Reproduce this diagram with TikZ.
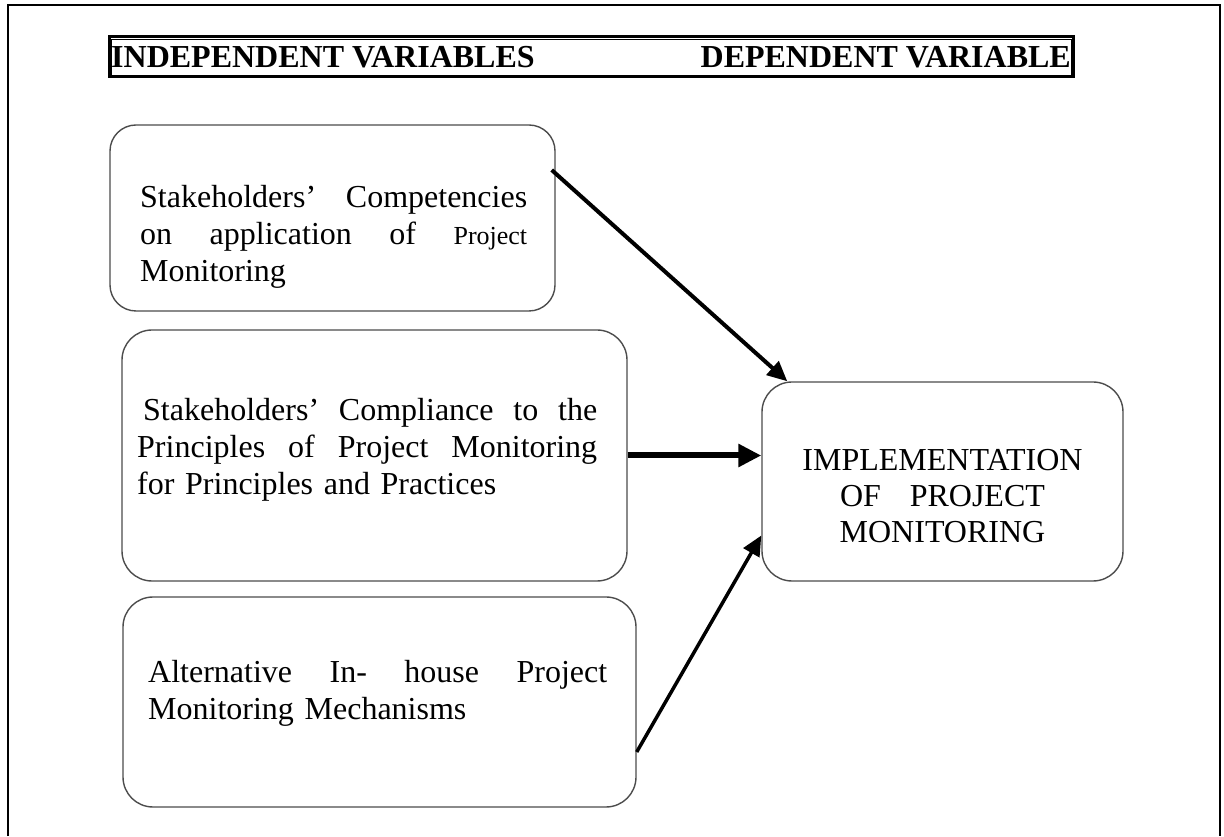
\documentclass[tikz,border=0pt]{standalone}
\usepackage{fontspec}
\setmainfont{Liberation Serif}
\usetikzlibrary{positioning, arrows.meta}

\begin{document}
\begin{tikzpicture}[
    x=1pt, y=1pt,
    box/.style={draw=black!70, line width=1.4pt, rounded corners=30pt, inner sep=0pt},
    txt/.style={align=left, inner sep=0pt, font=\fontsize{32}{37}\selectfont},
    headtxt/.style={inner sep=0pt, font=\bfseries\fontsize{32}{38}\selectfont},
    arrow/.style={-{Triangle[length=20pt, width=18pt]}, line width=4pt}
]
\useasboundingbox (0,0) rectangle (1224,836);

% Frame
\draw[line width=2.5pt] (8,0) -- (8,831) -- (1220,831) -- (1220,0);

% Header
\node[draw, line width=3pt, minimum width=964pt, minimum height=40pt] (head) at (591.5,779) {};
\draw[line width=0.8pt] ([shift={(3.5pt,-3.5pt)}]head.north west) rectangle ([shift={(-3.5pt,3.5pt)}]head.south east);
\node[headtxt, anchor=west] (indep) at ([xshift=3pt]head.west) {INDEPENDENT VARIABLES};
\node[headtxt, anchor=east] (dep) at ([xshift=-4pt]head.east) {DEPENDENT VARIABLE};

% Nodes
\node[box, rounded corners=26pt, minimum width=445pt, minimum height=186pt] (comp) at (332.5,618) {};
\node[txt, text width=387pt, anchor=west] (comptext) at (140,599.5)
    {Stakeholders'\hfill Competencies\\
     on\hfill application\hfill of\hfill {\fontsize{26}{37}\selectfont Project}\\
     Monitoring};

\node[box, minimum width=505pt, minimum height=251pt] (compl) at (374.5,380.5) {};
\node[txt, text width=460pt, anchor=west] (compltext) at (137,386)
    {\hspace*{6pt}Stakeholders'\hfill Compliance\hfill to\hfill the\\
     Principles\hfill of\hfill Project\hfill Monitoring\\
     for Principles and Practices};

\node[box, minimum width=513pt, minimum height=210pt] (alt) at (379.5,134) {};
\node[txt, text width=459pt, anchor=west] (alttext) at (148,142.5)
    {Alternative\hfill In-\hfill house\hfill Project\\
     Monitoring Mechanisms};

\node[box, minimum width=361pt, minimum height=199pt] (impl) at (942.5,354.5) {};
\node[txt, align=center, font=\fontsize{32}{36}\selectfont] (impltext) at (942.5,340)
    {IMPLEMENTATION\\ OF\hspace{0.9em}PROJECT\\ MONITORING};

% Arrows
\draw[arrow] ([shift={(-4pt,48pt)}]comp.east) -- ([xshift=26pt]impl.north west);

\draw[arrow, line width=6pt, -{Triangle[length=23pt, width=22pt]}] (compl.east) -- (compl.east -| impl.west);

\draw[arrow, line width=3.5pt] ([yshift=-50pt]alt.east) -- ([yshift=-54pt]impl.west);

\end{tikzpicture}
\end{document}
